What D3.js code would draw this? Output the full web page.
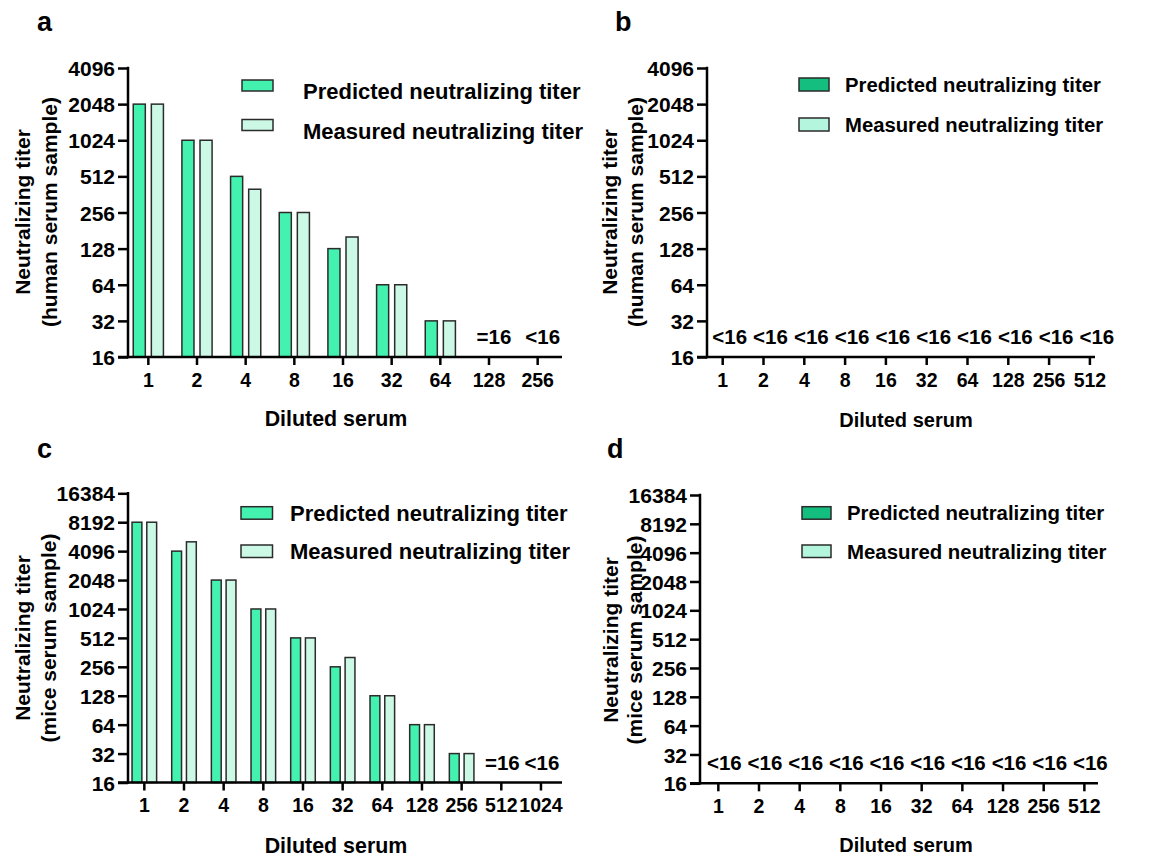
<!DOCTYPE html>
<html>
<head>
<meta charset="utf-8">
<script src="https://cdn.jsdelivr.net/npm/d3@7"></script>
<style>
  body { margin: 0; background: #fff; }
  text { font-family: "Liberation Sans", Arial, sans-serif; font-weight: bold; fill: #000; }
</style>
</head>
<body>
<svg id="fig"></svg>
<script>
// ---- data ----
var dil_a = ["1", "2", "4", "8", "16", "32", "64", "128", "256"];
var pred_a = [2048, 1024, 512, 256, 128, 64, 32, null, null];
var meas_a = [2048, 1024, 400, 256, 160, 64, 32, null, null];
var note_a = ["", "", "", "", "", "", "", "=16", "<16"];

var dil_b = ["1", "2", "4", "8", "16", "32", "64", "128", "256", "512"];
var pred_b = [null, null, null, null, null, null, null, null, null, null];
var meas_b = [null, null, null, null, null, null, null, null, null, null];
var note_b = ["<16", "<16", "<16", "<16", "<16", "<16", "<16", "<16", "<16", "<16"];

var dil_c = ["1", "2", "4", "8", "16", "32", "64", "128", "256", "512", "1024"];
var pred_c = [8192, 4096, 2048, 1024, 512, 256, 128, 64, 32, null, null];
var meas_c = [8192, 5120, 2048, 1024, 512, 320, 128, 64, 32, null, null];
var note_c = ["", "", "", "", "", "", "", "", "", "=16", "<16"];

var dil_d = dil_b;
var pred_d = pred_b;
var meas_d = meas_b;
var note_d = note_b;

var ticks_human = [16, 32, 64, 128, 256, 512, 1024, 2048, 4096];
var ticks_mice = [16, 32, 64, 128, 256, 512, 1024, 2048, 4096, 8192, 16384];

var legend_names = ["Predicted neutralizing titer", "Measured neutralizing titer"];

var light = ["#44f2b0", "#ccf8e6"];
var dark = ["#13be7f", "#b4f5de"];

var svg = d3.select("#fig").attr("width", 1151).attr("height", 858);

// ---- panels ----
var panels = [
  {tag: "a", tx: 37, ty: 31, dil: dil_a, pred: pred_a, meas: meas_a, note: note_a, ticks: ticks_human,
   left: 128, top: 68, bottom: 357, xr: [124, 562], xend: 562, colors: light, xfont: 19.5,
   lgx: 242, lgy: [80, 119.5], lgw: 31, lgh: 11, lgtx: 303, lgdy: 6, lgfont: 22,
   xtitle: [336, 418], xtfont: 21.4, ytx: [22, 49], yty: 212, second: "(human serum sample)", ndx: 5},
  {tag: "b", tx: 615, ty: 31, dil: dil_b, pred: pred_b, meas: meas_b, note: note_b, ticks: ticks_human,
   left: 707, top: 68, bottom: 357, xr: [702.3, 1110.3], xend: 1095, colors: dark, xfont: 19.5,
   lgx: 799, lgy: [78, 118], lgw: 30, lgh: 13, lgtx: 845, lgdy: 0, lgfont: 20.3,
   xtitle: [906, 420], xtfont: 20, ytx: [609, 635], yty: 212, second: "(human serum sample)", ndx: 7},
  {tag: "c", tx: 37, ty: 458, dil: dil_c, pred: pred_c, meas: meas_c, note: note_c, ticks: ticks_mice,
   left: 128, top: 493.3, bottom: 782.5, xr: [124.5, 560.8], xend: 562, colors: light, xfont: 19.5,
   lgx: 241, lgy: [506.7, 545], lgw: 31.5, lgh: 12.5, lgtx: 290, lgdy: 0, lgfont: 22,
   xtitle: [336, 845], xtfont: 21.4, ytx: [22, 48], yty: 638, second: "(mice serum sample)", ndx: 1},
  {tag: "d", tx: 607, ty: 458, dil: dil_d, pred: pred_d, meas: meas_d, note: note_d, ticks: ticks_mice,
   left: 700, top: 495, bottom: 783.3, xr: [698, 1104.7], xend: 1098, colors: dark, xfont: 19.5,
   lgx: 802, lgy: [506.7, 545], lgw: 29, lgh: 12.5, lgtx: 847, lgdy: 0, lgfont: 20.4,
   xtitle: [906, 845], xtfont: 20, ytx: [610, 634], yty: 640, second: "(mice serum sample)", ndx: 6}
];

panels.forEach(draw_panel);

function draw_panel(p){
  var g = svg.append("g");

  var y = d3.scaleLog().base(2)
    .domain([p.ticks[0], p.ticks[p.ticks.length - 1]])
    .range([p.bottom, p.top]);

  var x = d3.scaleBand().domain(p.dil).range(p.xr).padding(0);
  var step = x.step();
  var group_w = 0.62 * step;
  var x1 = d3.scaleBand().domain([0, 1]).range([0, group_w]).paddingInner(0.333);

  // bars
  var rows = p.dil.map(function(d, i){
    return [{cat: d, k: 0, v: p.pred[i]}, {cat: d, k: 1, v: p.meas[i]}];
  });
  g.selectAll(".grp")
    .data(rows)
    .join("g")
    .attr("class", "grp")
    .selectAll("rect")
    .data(function(d){ return d.filter(function(e){ return e.v != null; }); })
    .join("rect")
      .attr("x", function(d){ return x(d.cat) + step / 2 - group_w / 2 + x1(d.k); })
      .attr("width", x1.bandwidth())
      .attr("y", function(d){ return y(d.v); })
      .attr("height", function(d){ return p.bottom - y(d.v); })
      .attr("fill", function(d){ return p.colors[d.k]; })
      .attr("stroke", "#2b2b2b")
      .attr("stroke-width", 1.5);

  // notes on empty groups
  g.selectAll(".note")
    .data(p.dil.map(function(d, i){ return {cat: d, t: p.note[i]}; }).filter(function(d){ return d.t; }))
    .join("text")
      .attr("class", "note")
      .attr("x", function(d){ return x(d.cat) + step / 2 + p.ndx; })
      .attr("y", p.bottom - 13)
      .attr("text-anchor", "middle")
      .style("font-size", "20.5px")
      .text(function(d){ return d.t; });

  // y axis
  var ya = g.append("g")
    .attr("transform", "translate(" + p.left + ",0)")
    .call(d3.axisLeft(y).tickValues(p.ticks).tickFormat(d3.format("d")).tickSize(10).tickPadding(3));
  ya.select(".domain").remove();
  ya.selectAll("line").attr("stroke", "#000").attr("stroke-width", 2.5);
  ya.selectAll("text").style("font-size", "21px").attr("dy", "0.36em");
  g.append("line")
    .attr("x1", p.left).attr("x2", p.left)
    .attr("y1", p.top - 1.2).attr("y2", p.bottom + 1.2)
    .attr("stroke", "#000").attr("stroke-width", 2.5);

  // x axis
  var xa = g.append("g")
    .attr("transform", "translate(0," + p.bottom + ")")
    .call(d3.axisBottom(x).tickSize(8).tickPadding(8));
  xa.select(".domain").remove();
  xa.selectAll("line").attr("stroke", "#000").attr("stroke-width", 2.5);
  xa.selectAll("text").style("font-size", p.xfont + "px");
  g.append("line")
    .attr("x1", p.left - 10).attr("x2", p.xend)
    .attr("y1", p.bottom).attr("y2", p.bottom)
    .attr("stroke", "#000").attr("stroke-width", 2.5);

  // axis titles
  g.append("text")
    .attr("x", p.xtitle[0]).attr("y", p.xtitle[1])
    .attr("text-anchor", "middle").attr("dy", "0.36em")
    .style("font-size", p.xtfont + "px")
    .text("Diluted serum");

  var lines = ["Neutralizing titer", p.second];
  lines.forEach(function(t, i){
    g.append("text")
      .attr("transform", "translate(" + p.ytx[i] + "," + p.yty + ") rotate(-90)")
      .attr("text-anchor", "middle").attr("dy", "0.36em")
      .style("font-size", "21px")
      .text(t);
  });

  // legend
  legend_names.forEach(function(name, i){
    g.append("rect")
      .attr("x", p.lgx).attr("y", p.lgy[i])
      .attr("width", p.lgw).attr("height", p.lgh)
      .attr("fill", p.colors[i])
      .attr("stroke", "#2b2b2b").attr("stroke-width", 1.5);
    g.append("text")
      .attr("x", p.lgtx).attr("y", p.lgy[i] + p.lgh / 2 + p.lgdy)
      .attr("dy", "0.36em")
      .style("font-size", p.lgfont + "px")
      .text(name);
  });

  // panel letter
  g.append("text")
    .attr("x", p.tx).attr("y", p.ty)
    .style("font-size", "27px")
    .text(p.tag);
}
</script>
</body>
</html>
